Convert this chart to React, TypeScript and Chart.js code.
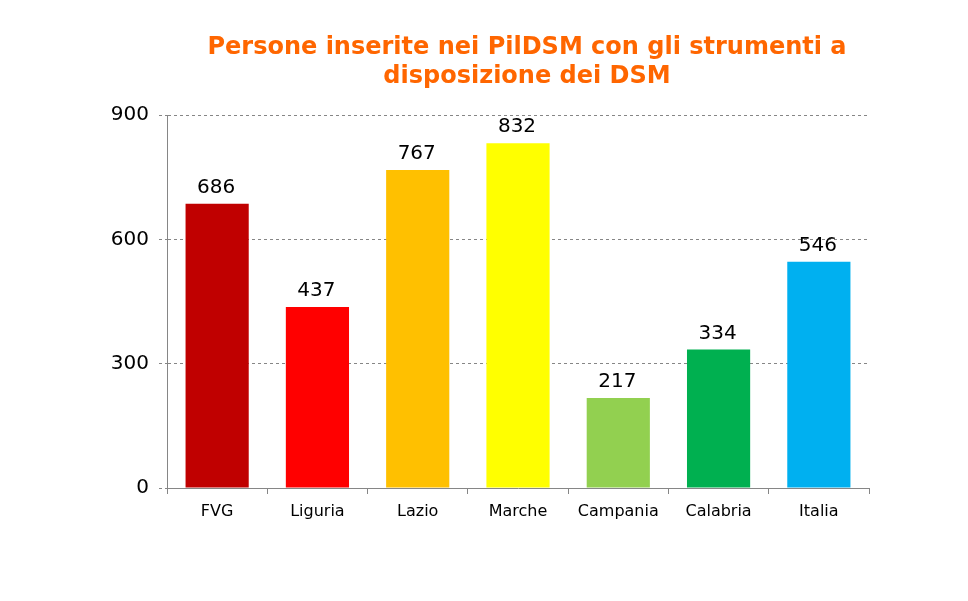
import React, { useEffect, useRef } from "react";
import { Chart, registerables } from "chart.js";

Chart.register(...registerables);

const categories = ["FVG", "Liguria", "Lazio", "Marche", "Campania", "Calabria", "Italia"];
const values = [686, 437, 767, 832, 217, 334, 546];
const barColors = ["#C00000", "#FF0000", "#FFC000", "#FFFF00", "#92D050", "#00B050", "#00B0F0"];
const titleLines = ["Persone inserite nei PilDSM con gli strumenti a", "disposizione dei DSM"];
const yMax = 900;
const yStep = 300;

const FONT = "'DejaVu Sans', Verdana, sans-serif";

const labelPlugin = {
  id: "valueLabels",
  afterDatasetsDraw(chart: any) {
    const ctx = chart.ctx;
    const meta = chart.getDatasetMeta(0);
    ctx.save();
    ctx.fillStyle = "#000";
    ctx.font = `20px ${FONT}`;
    ctx.textAlign = "center";
    ctx.textBaseline = "bottom";
    meta.data.forEach((bar: any, i: number) => {
      ctx.fillText(String(values[i]), bar.x - 1, bar.y - 6);
    });
    ctx.restore();
  },
};

const titlePlugin = {
  id: "customTitle",
  afterDraw(chart: any) {
    const ctx = chart.ctx;
    const area = chart.chartArea;
    const cx = (area.left + area.right) / 2 + 9;
    ctx.save();
    ctx.fillStyle = "#FF6600";
    ctx.font = `bold 24px ${FONT}`;
    ctx.textAlign = "center";
    ctx.textBaseline = "middle";
    titleLines.forEach((line, i) => {
      ctx.fillText(line, cx, 48 + i * 29);
    });
    ctx.restore();
  },
};

export default function App() {
  const ref = useRef<HTMLCanvasElement | null>(null);
  useEffect(() => {
    if (!ref.current) return;
    const chart = new Chart(ref.current, {
      type: "bar",
      data: {
        labels: categories,
        datasets: [
          {
            data: values,
            backgroundColor: barColors,
            borderWidth: 0,
            barPercentage: 0.63,
            categoryPercentage: 1,
          },
        ],
      },
      options: {
        animation: false,
        responsive: false,
        maintainAspectRatio: false,
        layout: { padding: { top: 115, right: 99, bottom: 73, left: 0 } },
        plugins: { legend: { display: false }, title: { display: false }, tooltip: { enabled: false } },
        scales: {
          x: {
            afterFit(scale: any) {
              scale.height = 40;
            },
            grid: {
              offset: true,
              drawOnChartArea: false,
              drawTicks: true,
              tickLength: 6,
              color: "#868686",
              tickColor: "#868686",
            },
            border: { display: true, color: "#868686", width: 1 },
            ticks: { color: "#000", font: { family: FONT, size: 16 }, padding: 8 },
          },
          y: {
            min: 0,
            max: yMax,
            afterFit(scale: any) {
              scale.width = 167;
            },
            ticks: { stepSize: yStep, color: "#000", font: { family: FONT, size: 20 }, padding: 10 },
            grid: {
              color: (c: any) => (c.tick && c.tick.value === 0 ? "rgba(0,0,0,0)" : "#868686"),
              tickColor: "#868686",
              tickLength: 8,
              tickBorderDash: [3, 3],
            },
            border: { display: true, color: "#868686", width: 1, dash: [3, 3] },
          },
        },
      },
      plugins: [labelPlugin, titlePlugin],
    });
    return () => chart.destroy();
  }, []);
  return (
    <div style={{ position: "absolute", left: 0, top: 0, width: 968, height: 601, background: "#fff" }}>
      <canvas ref={ref} width={968} height={601} style={{ width: 968, height: 601 }} />
    </div>
  );
}
